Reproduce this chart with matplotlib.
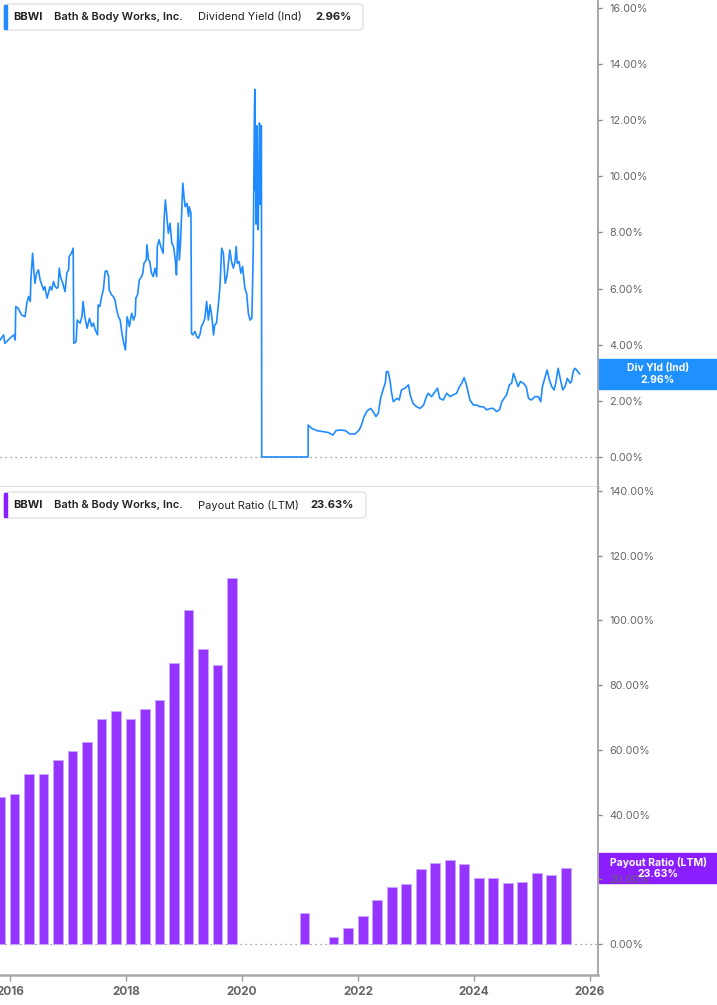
import matplotlib
matplotlib.use("Agg")
import matplotlib.pyplot as plt
from matplotlib.patches import FancyBboxPatch, Rectangle
from matplotlib.transforms import IdentityTransform

plt.rcParams["font.family"] = ["Inter", "DejaVu Sans"]

# dividend yield (Ind), % -- dates as decimal years
yield_dates = [
    2015.83, 2015.89, 2015.91, 2015.97, 2016.03, 2016.07, 2016.09, 2016.10, 2016.14, 2016.20,
    2016.26, 2016.29, 2016.32, 2016.35, 2016.36, 2016.39, 2016.41, 2016.43, 2016.46, 2016.49,
    2016.52, 2016.58, 2016.60, 2016.64, 2016.69, 2016.72, 2016.75, 2016.78, 2016.81, 2016.83,
    2016.85, 2016.87, 2016.91, 2016.95, 2016.98, 2017.01, 2017.02, 2017.06, 2017.09, 2017.10,
    2017.14, 2017.16, 2017.21, 2017.24, 2017.26, 2017.29, 2017.33, 2017.37, 2017.41, 2017.44,
    2017.47, 2017.51, 2017.52, 2017.55, 2017.58, 2017.61, 2017.64, 2017.67, 2017.70, 2017.71,
    2017.75, 2017.78, 2017.81, 2017.84, 2017.87, 2017.90, 2017.93, 2017.95, 2017.99, 2018.02,
    2018.06, 2018.08, 2018.10, 2018.13, 2018.16, 2018.17, 2018.20, 2018.23, 2018.27, 2018.29,
    2018.31, 2018.35, 2018.36, 2018.39, 2018.41, 2018.44, 2018.47, 2018.50, 2018.53, 2018.54,
    2018.57, 2018.60, 2018.62, 2018.64, 2018.66, 2018.68, 2018.70, 2018.73, 2018.76, 2018.79,
    2018.82, 2018.85, 2018.87, 2018.90, 2018.92, 2018.94, 2018.98, 2019.00, 2019.02, 2019.05,
    2019.08, 2019.09, 2019.12, 2019.13, 2019.15, 2019.19, 2019.22, 2019.25, 2019.28, 2019.30,
    2019.33, 2019.36, 2019.39, 2019.42, 2019.45, 2019.48, 2019.51, 2019.53, 2019.56, 2019.59,
    2019.62, 2019.65, 2019.68, 2019.71, 2019.74, 2019.76, 2019.79, 2019.82, 2019.85, 2019.88,
    2019.90, 2019.92, 2019.95, 2019.98, 2020.01, 2020.05, 2020.08, 2020.11, 2020.14, 2020.17,
    2020.18, 2020.195, 2020.205, 2020.215, 2020.222, 2020.228, 2020.235, 2020.242, 2020.25, 2020.258,
    2020.265, 2020.272, 2020.28, 2020.29, 2020.30, 2020.31, 2020.318, 2020.325, 2020.335, 2020.34,
    2021.14, 2021.141, 2021.20, 2021.29, 2021.40, 2021.49, 2021.57, 2021.62, 2021.69, 2021.78,
    2021.86, 2021.95, 2022.02, 2022.06, 2022.10, 2022.15, 2022.18, 2022.22, 2022.26, 2022.31,
    2022.35, 2022.39, 2022.44, 2022.47, 2022.49, 2022.52, 2022.55, 2022.58, 2022.61, 2022.67,
    2022.71, 2022.75, 2022.81, 2022.87, 2022.90, 2022.95, 2023.01, 2023.07, 2023.13, 2023.18,
    2023.21, 2023.27, 2023.33, 2023.37, 2023.41, 2023.47, 2023.53, 2023.59, 2023.64, 2023.70,
    2023.75, 2023.79, 2023.83, 2023.87, 2023.93, 2023.99, 2024.05, 2024.10, 2024.16, 2024.22,
    2024.28, 2024.33, 2024.39, 2024.44, 2024.48, 2024.52, 2024.56, 2024.61, 2024.65, 2024.68,
    2024.72, 2024.76, 2024.80, 2024.85, 2024.90, 2024.94, 2024.99, 2025.05, 2025.11, 2025.15,
    2025.18, 2025.22, 2025.26, 2025.30, 2025.34, 2025.38, 2025.41, 2025.45, 2025.48, 2025.53,
    2025.57, 2025.61, 2025.66, 2025.68, 2025.71, 2025.74, 2025.77, 2025.82,
]
yield_values = [
    4.17, 4.35, 4.05, 4.17, 4.29, 4.35, 4.17, 5.36, 5.30, 5.06,
    5.00, 5.48, 5.72, 5.54, 6.31, 7.26, 6.67, 6.19, 6.55, 6.67,
    6.31, 5.95, 6.07, 5.66, 6.07, 5.95, 6.25, 6.07, 6.01, 6.07,
    6.73, 6.43, 6.19, 5.89, 6.55, 6.67, 7.14, 7.26, 7.44, 4.05,
    4.11, 4.88, 4.77, 5.00, 5.54, 5.00, 4.59, 4.94, 4.65, 4.77,
    4.53, 4.35, 5.42, 5.36, 5.72, 5.95, 6.61, 6.64, 6.43, 5.95,
    5.78, 5.72, 5.60, 5.24, 5.00, 4.88, 4.41, 4.17, 3.81, 5.00,
    4.65, 4.94, 5.12, 4.88, 5.06, 5.66, 5.78, 6.31, 6.43, 6.55,
    6.90, 7.02, 7.56, 7.02, 6.96, 6.55, 6.43, 6.73, 6.43, 7.50,
    7.74, 7.50, 7.38, 7.26, 8.57, 9.16, 8.69, 7.97, 8.33, 7.62,
    7.50, 7.02, 6.49, 8.33, 7.02, 7.62, 9.76, 9.28, 8.92, 9.04,
    8.57, 8.92, 8.69, 4.41, 4.35, 4.47, 4.29, 4.23, 4.41, 4.65,
    4.77, 4.94, 5.54, 4.88, 5.42, 5.00, 4.35, 4.71, 4.77, 5.36,
    6.07, 7.44, 7.26, 6.19, 6.43, 6.79, 7.38, 6.96, 6.73, 6.96,
    7.50, 6.90, 6.96, 6.55, 6.79, 6.01, 5.83, 5.12, 4.88, 4.94,
    5.83, 7.50, 10.0, 12.4, 13.1, 9.5, 11.8, 8.3, 11.2, 11.8,
    9.0, 10.5, 8.1, 10.2, 11.9, 11.8, 9.0, 11.7, 11.8, 0.0,
    0.0, 1.14, 1.02, 0.94, 0.90, 0.87, 0.78, 0.94, 0.96, 0.94,
    0.82, 0.82, 0.96, 1.14, 1.41, 1.62, 1.68, 1.73, 1.62, 1.44,
    1.56, 2.09, 2.45, 2.63, 3.04, 3.04, 2.75, 2.27, 1.97, 2.09,
    2.03, 2.39, 2.45, 2.57, 2.21, 1.91, 1.79, 1.73, 1.85, 2.15,
    2.27, 2.15, 2.33, 2.45, 2.09, 2.03, 2.27, 2.15, 2.21, 2.27,
    2.51, 2.63, 2.83, 2.57, 2.03, 1.85, 1.85, 1.79, 1.79, 1.68,
    1.73, 1.73, 1.62, 1.68, 1.97, 2.09, 2.21, 2.57, 2.63, 2.98,
    2.75, 2.51, 2.69, 2.63, 2.51, 2.09, 2.03, 2.15, 2.15, 1.97,
    2.51, 2.80, 3.10, 2.75, 2.51, 2.39, 2.63, 3.16, 2.86, 2.39,
    2.51, 2.80, 2.63, 2.69, 3.04, 3.16, 3.10, 2.96,
]

# payout ratio (LTM), % -- quarterly
payout_dates = [
    2015.83, 2016.08, 2016.33, 2016.58, 2016.83, 2017.08, 2017.33, 2017.58, 2017.83,
    2018.08, 2018.33, 2018.58, 2018.83, 2019.08, 2019.33, 2019.58, 2019.83,
    2021.08, 2021.58, 2021.83, 2022.08, 2022.33, 2022.58, 2022.83, 2023.08, 2023.33,
    2023.58, 2023.83, 2024.08, 2024.33, 2024.58, 2024.83, 2025.08, 2025.33, 2025.58,
]
payout_values = [
    45.3, 46.4, 52.5, 52.6, 56.9, 59.5, 62.5, 69.6, 72.1,
    69.5, 72.5, 75.3, 87.0, 103.2, 91.2, 86.2, 113.2,
    9.7, 2.1, 4.8, 8.8, 13.6, 17.7, 18.4, 23.1, 25.1,
    25.9, 24.7, 20.5, 20.3, 19.0, 19.2, 21.9, 21.3, 23.63,
]

year_ticks = [2016, 2018, 2020, 2022, 2024, 2026]
yield_ticks = [0, 2, 4, 6, 8, 10, 12, 14, 16]
payout_ticks = [0, 20, 40, 60, 80, 100, 120, 140]

BLUE = "#1f8bff"
PURPLE = "#9634ff"

W, H = 717, 1005
fig = plt.figure(figsize=(W / 100, H / 100), dpi=100)
px = IdentityTransform()


def fy(y):
    return 1 - y / H


ax1 = fig.add_axes([0, fy(487), 598 / W, fy(0) - fy(487)])
ax2 = fig.add_axes([0, fy(975), 598 / W, fy(487) - fy(975)])

for ax in (ax1, ax2):
    ax.set_xlim(2015.828, 2026.138)
    ax.spines["top"].set_visible(False)
    ax.spines["left"].set_visible(False)
    ax.spines["right"].set_color("#9a9a9a")
    ax.spines["right"].set_linewidth(1.2)
    ax.yaxis.tick_right()
    ax.tick_params(axis="y", length=3, width=1, color="#888888",
                   labelcolor="#666666", labelsize=7.8, pad=5)
    ax.axhline(0, color="#888888", lw=0.9, ls=(0, (1, 3)), zorder=1)

# dividend yield panel
ax1.plot(yield_dates, yield_values, color=BLUE, lw=1.2, zorder=3)
ax1.set_ylim(-1.07, 16.285)
ax1.set_yticks(yield_ticks)
ax1.set_yticklabels([f"{v:.2f}%" for v in yield_ticks])
ax1.set_xticks([])
ax1.spines["bottom"].set_color("#dddddd")
ax1.spines["bottom"].set_linewidth(2)

# payout ratio panel
ax2.bar(payout_dates, payout_values, width=0.168, color=PURPLE,
        edgecolor="#cba6ff", linewidth=0.7, zorder=2)
ax2.set_ylim(-9.58, 141.24)
ax2.set_yticks(payout_ticks)
ax2.set_yticklabels([f"{v:.2f}%" for v in payout_ticks])
ax2.set_xticks(year_ticks)
ax2.set_xticklabels([str(y) for y in year_ticks])
ax2.tick_params(axis="x", length=4, width=1, color="#999999",
                labelcolor="#666666", labelsize=8.5, pad=4)
for lab in ax2.get_xticklabels():
    lab.set_fontweight("bold")
ax2.spines["bottom"].set_color("#a8a8a8")
ax2.spines["bottom"].set_linewidth(1.8)


# legend boxes (pixel coords, y from top)
def legend(y0, y1, x1, color, parts):
    fig.add_artist(FancyBboxPatch((4, H - y1), x1 - 4, y1 - y0,
                                  boxstyle="round,pad=0,rounding_size=4",
                                  facecolor="white", edgecolor="#e3e3e3",
                                  lw=1, transform=px))
    fig.add_artist(Rectangle((4, H - y1 + 1), 3, y1 - y0 - 2, color=color,
                             transform=px))
    yc = H - (y0 + y1) / 2
    for txt, x, w in parts:
        fig.text(x, yc, txt, transform=px, ha="left", va="center",
                 fontsize=8, fontweight=w, color="#222222")


legend(4, 30, 363, BLUE, [("BBWI", 13, "bold"),
                          ("Bath & Body Works, Inc.", 54, "semibold"),
                          ("Dividend Yield (Ind)", 198, "normal"),
                          ("2.96%", 315, "bold")])
legend(492, 518, 366, "#8b1eff", [("BBWI", 13, "bold"),
                                  ("Bath & Body Works, Inc.", 54, "semibold"),
                                  ("Payout Ratio (LTM)", 198, "normal"),
                                  ("23.63%", 310, "bold")])


# last-value labels on the right axis
def flag(y0, y1, color, line1, line2):
    fig.add_artist(Rectangle((599, H - y1), 118, y1 - y0, color=color,
                             transform=px, zorder=-1))
    fig.text(658, H - (y0 + 9), line1, transform=px, ha="center", va="center",
             fontsize=7.5, fontweight="bold", color="white", zorder=5)
    fig.text(658, H - (y0 + 21), line2, transform=px, ha="center", va="center",
             fontsize=7.5, fontweight="bold", color="white", zorder=5)


flag(359, 389, "#1e90ff", "Div Yld (Ind)", "2.96%")
flag(853, 883, "#8b1eff", "Payout Ratio (LTM)", "23.63%")

fig.savefig("out.png", dpi=100)
